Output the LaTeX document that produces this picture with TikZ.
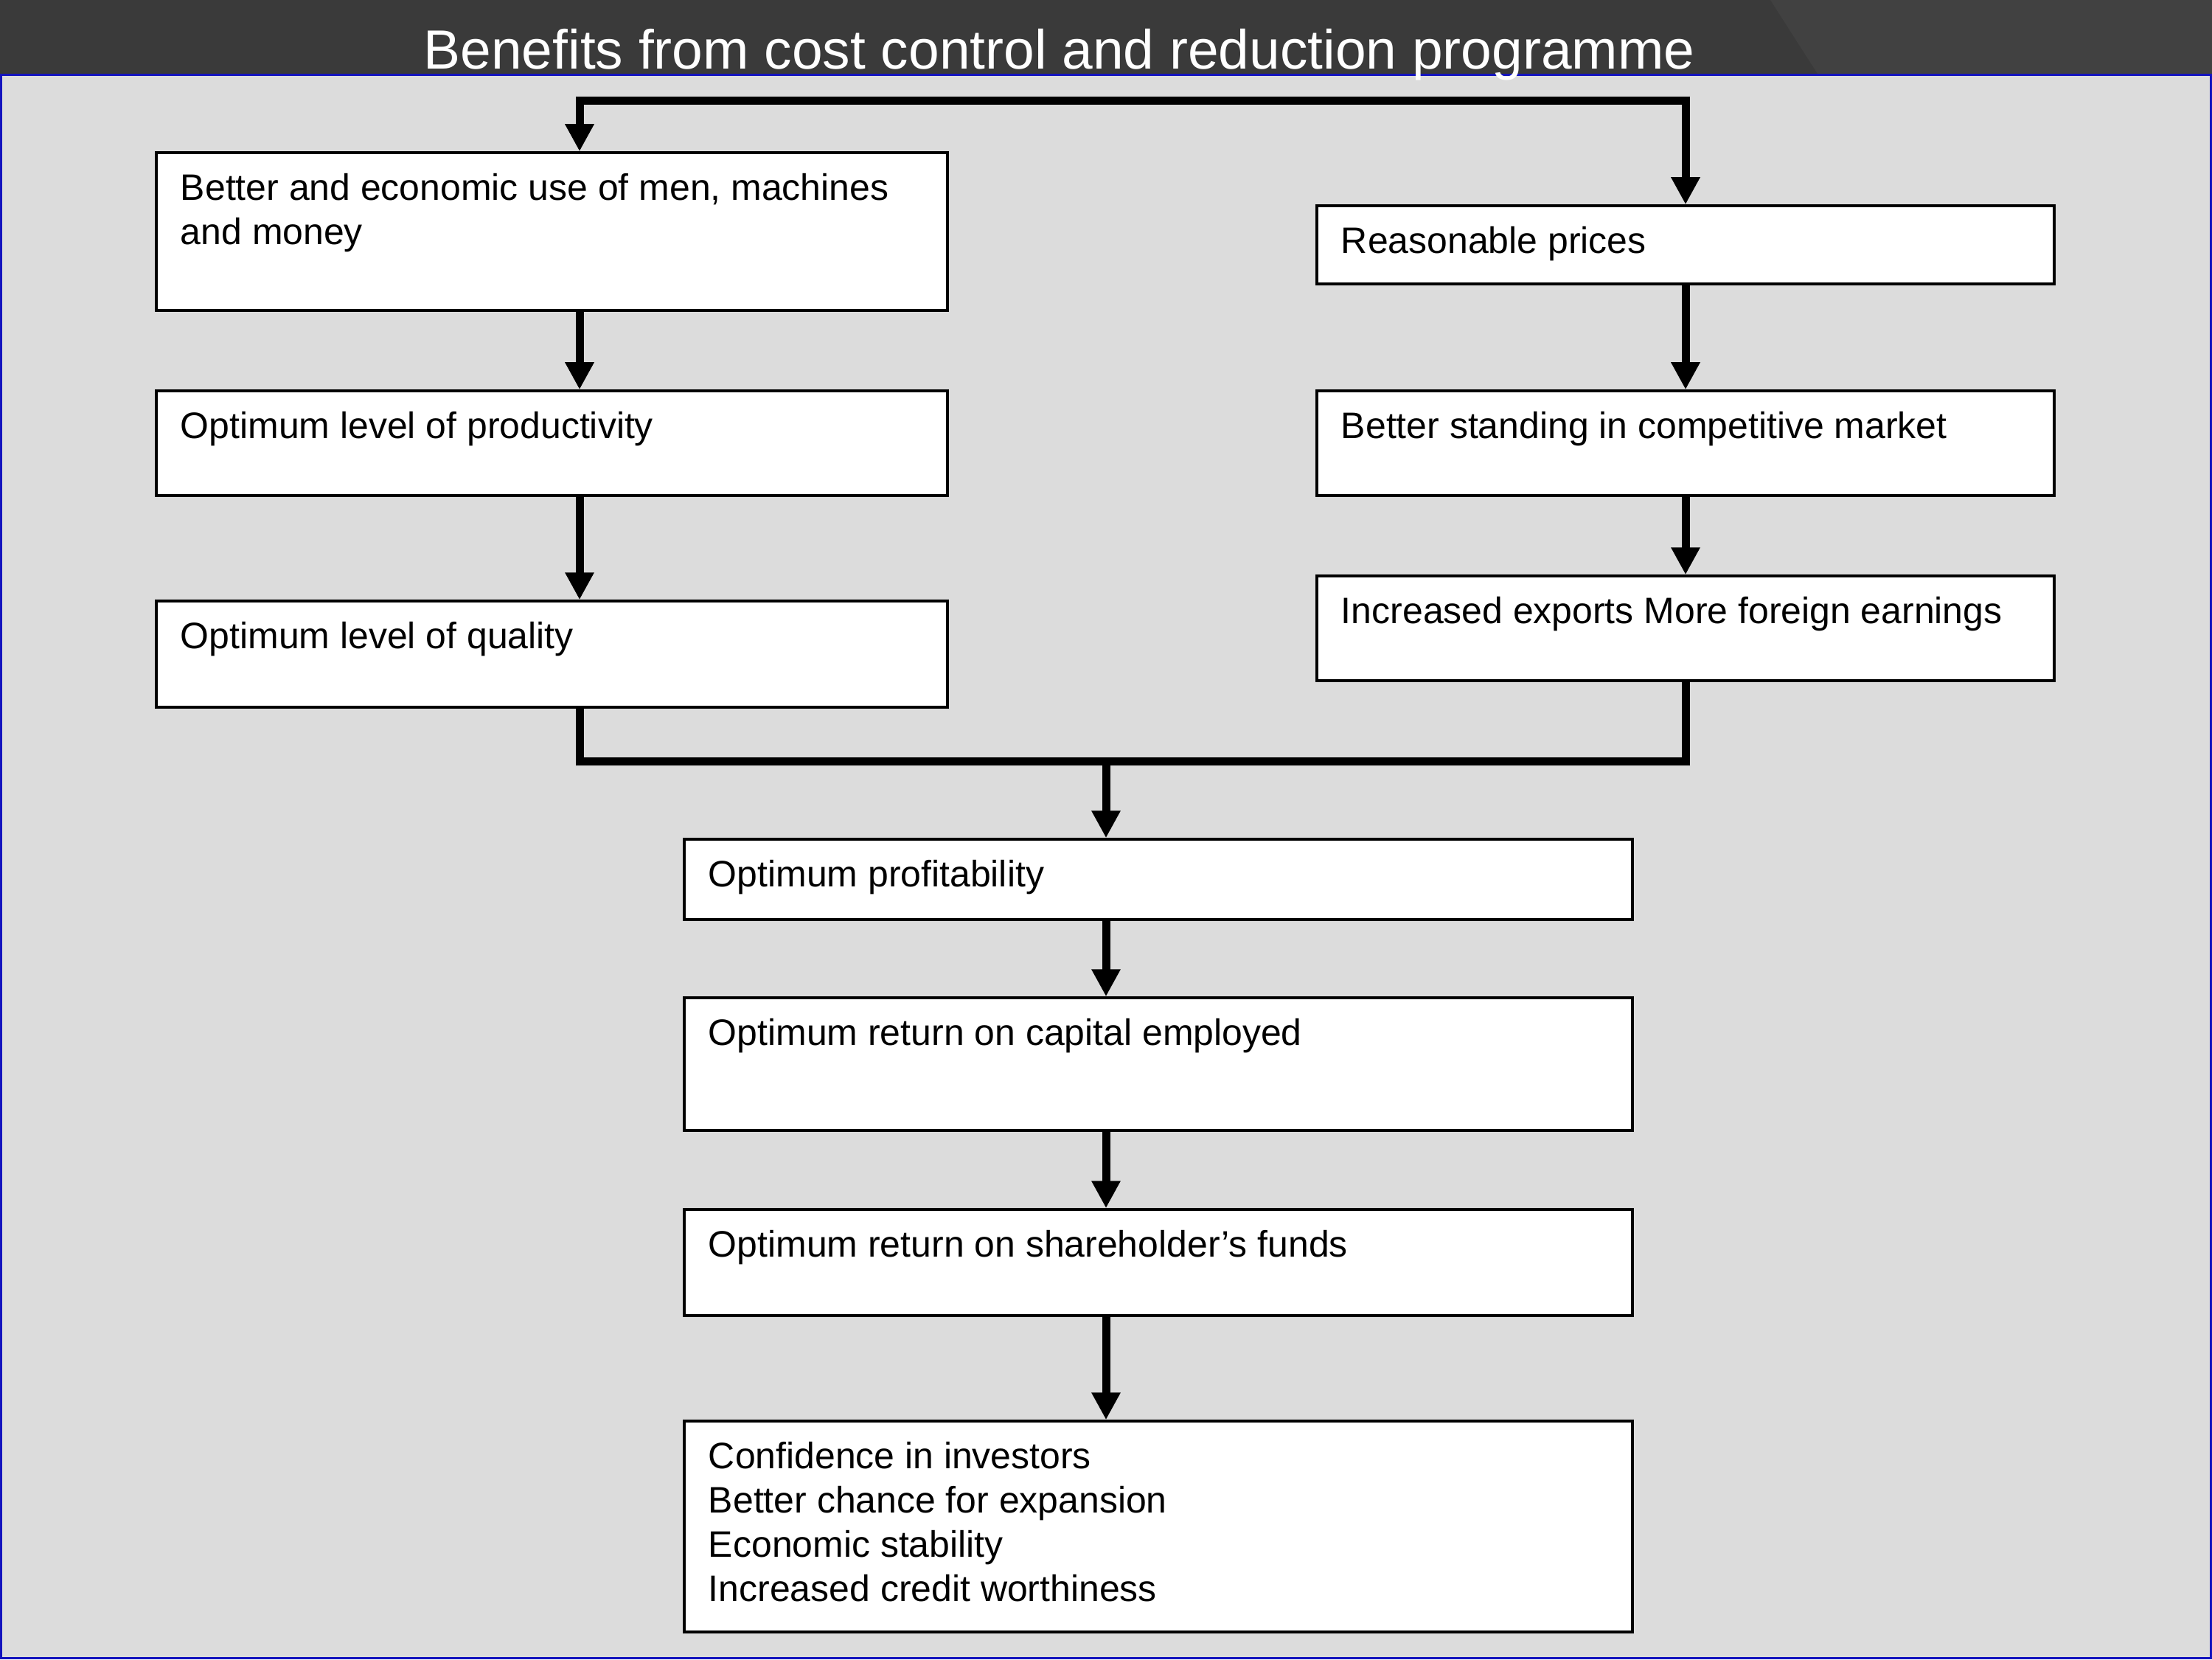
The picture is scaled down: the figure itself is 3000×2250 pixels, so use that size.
\documentclass[tikz,border=0pt]{standalone}
\usepackage{fontspec}
\setmainfont{Liberation Sans}
\usetikzlibrary{arrows.meta,fit}
\definecolor{hdr}{HTML}{3A3A3A}
\definecolor{hdrr}{HTML}{414141}
\definecolor{panel}{HTML}{DCDCDC}
\definecolor{frame}{RGB}{20,20,190}
\tikzset{
  box/.style={draw=black, fill=white, line width=0.35mm, inner sep=0pt, rectangle},
  txt/.style={anchor=north west, inner sep=0pt, xshift=3.4mm, yshift=-2.9mm, align=left,
    font=\fontsize{14.2pt}{17.07pt}\selectfont},
  conn/.style={line width=1.1mm, line join=miter, draw=black},
  arr/.style={conn, -{Triangle[length=3.7mm,width=3.7mm]}},
}
\begin{document}
\begin{tikzpicture}[x=0.01cm, y=-0.01cm]
\useasboundingbox (0,0) rectangle (3000,2250);
% header
\fill[hdr] (0,0) rectangle (3000,100);
\fill[hdrr] (2401,0) -- (3000,0) -- (3000,100) -- (2465,100) -- cycle;
% panel
\fill[panel] (0,100) rectangle (3000,2250);
\draw[frame, line width=0.3mm] (1.5,101.5) rectangle (2998.5,2248.5);
% boxes
\node[box, fit={(212,207) (1285,421)}] (A) {};
\node[box, fit={(212,530) (1285,672)}] (B) {};
\node[box, fit={(212,815) (1285,959)}] (C) {};
\node[box, fit={(1786,279) (2786,385)}] (D) {};
\node[box, fit={(1786,530) (2786,672)}] (E) {};
\node[box, fit={(1786,781) (2786,923)}] (F) {};
\node[box, fit={(928,1138) (2214,1247)}] (G) {};
\node[box, fit={(928,1353) (2214,1533)}] (H) {};
\node[box, fit={(928,1640) (2214,1784)}] (I) {};
\node[box, fit={(928,1927) (2214,2213)}] (J) {};
% texts
\node[txt] (tA) at (A.north west) {Better and economic use of men, machines\\and money};
\node[txt] (tB) at (B.north west) {Optimum level of productivity};
\node[txt] (tC) at (C.north west) {Optimum level of quality};
\node[txt] (tD) at (D.north west) {Reasonable prices};
\node[txt] (tE) at (E.north west) {Better standing in competitive market};
\node[txt] (tF) at (F.north west) {Increased exports More foreign earnings};
\node[txt] (tG) at (G.north west) {Optimum profitability};
\node[txt] (tH) at (H.north west) {Optimum return on capital employed};
\node[txt] (tI) at (I.north west) {Optimum return on shareholder’s funds};
\node[txt] (tJ) at (J.north west) {Confidence in investors\\Better chance for expansion\\Economic stability\\Increased credit worthiness};
% connector coordinates
\coordinate (TL) at (786,136);
\coordinate (TR) at (2286,136);
\coordinate (ML) at (786,1032);
\coordinate (MR) at (2286,1032);
\coordinate (MM) at (1500,1032);
% connectors
\draw[arr] (TR) -- (TL) -- (TL |- A.north);
\draw[arr] (TL) -- (TR) -- (D.north);
\draw[arr] (A.south -| TL) -- (B.north -| TL);
\draw[arr] (B.south -| TL) -- (C.north -| TL);
\draw[arr] (D.south) -- (E.north);
\draw[arr] (E.south) -- (F.north);
\draw[conn] (C.south -| ML) -- (ML) -- (MR) -- (F.south);
\draw[arr] (MM) -- (MM |- G.north);
\draw[arr] (G.south -| MM) -- (H.north -| MM);
\draw[arr] (H.south -| MM) -- (I.north -| MM);
\draw[arr] (I.south -| MM) -- (J.north -| MM);
% title
\node[anchor=base west, inner sep=0pt, text=white, font=\fontsize{21.3pt}{25pt}\selectfont] (title) at (574,93) {Benefits from cost control and reduction programme};
\end{tikzpicture}
\end{document}
